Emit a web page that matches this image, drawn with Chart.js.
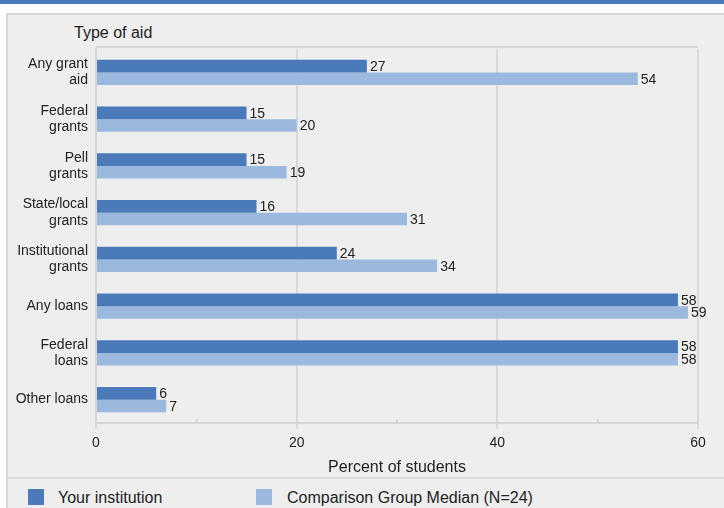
<!DOCTYPE html>
<html>
<head>
<meta charset="utf-8">
<script src="https://cdn.jsdelivr.net/npm/chart.js@4.4.1/dist/chart.umd.min.js"></script>
<style>
  body { margin: 0; width: 724px; height: 508px; overflow: hidden; background: #fff; font-family: "Liberation Sans", Arial, sans-serif; color: #222; }
  .band { position: absolute; left: 0; top: 0; width: 724px; height: 4px; background: #4a7ab9; }
  .panel { position: absolute; left: 6px; top: 13px; width: 730px; height: 510px; background: #eeeeee; border-top: 2px solid #d6d6d6; border-left: 2px solid #d6d6d6; }
  .divider { position: absolute; left: 8px; top: 477px; width: 716px; height: 2px; background: #d9d9d9; }
  .wrap { position: absolute; left: 0; top: 0; width: 724px; height: 478px; }
  .ytitle { position: absolute; left: 74px; top: 24px; font-size: 16px; }
  .legend { position: absolute; top: 489px; left: 0; font-size: 16px; }
  .legend span.box { position: absolute; top: 0; width: 16px; height: 16px; }
  .legend span.txt { position: absolute; top: 0; white-space: nowrap; line-height: 18px; }
</style>
</head>
<body>
<div class="band"></div>
<div class="panel"></div>
<div class="divider"></div>
<div class="ytitle">Type of aid</div>
<div class="wrap"><canvas id="chart"></canvas></div>
<div class="legend">
  <span class="box" style="left:28px;background:#4a7ab9"></span>
  <span class="txt" style="left:58px">Your institution</span>
  <span class="box" style="left:256px;background:#9bb9df"></span>
  <span class="txt" style="left:287px">Comparison Group Median (N=24)</span>
</div>
<script>
const categories = [
  ["Any grant", "aid"],
  ["Federal", "grants"],
  ["Pell", "grants"],
  ["State/local", "grants"],
  ["Institutional", "grants"],
  "Any loans",
  ["Federal", "loans"],
  "Other loans",
];
const yourInstitution = [27, 15, 15, 16, 24, 58, 58, 6];
const comparisonMedian = [54, 20, 19, 31, 34, 59, 58, 7];
const seriesNames = ["Your institution", "Comparison Group Median (N=24)"];

const FONT = "'Liberation Sans', Arial, sans-serif";

// value labels at bar ends, plot top border, minor ticks
const extras = {
  id: "extras",
  afterDatasetsDraw(chart) {
    const ctx = chart.ctx;
    const area = chart.chartArea;
    const x = chart.scales.x;
    ctx.save();
    ctx.strokeStyle = "#d6d6d6";
    ctx.lineWidth = 2;
    ctx.beginPath();
    ctx.moveTo(area.left, area.top - 2);
    ctx.lineTo(area.right, area.top - 2);
    [10, 30, 50].forEach(v => {
      const px = x.getPixelForValue(v);
      ctx.moveTo(px, area.bottom);
      ctx.lineTo(px, area.bottom - 4);
    });
    ctx.stroke();

    ctx.fillStyle = "#222";
    ctx.font = "14px " + FONT;
    ctx.textAlign = "left";
    ctx.textBaseline = "middle";
    chart.data.datasets.forEach((ds, i) => {
      chart.getDatasetMeta(i).data.forEach((bar, j) => {
        ctx.fillText(ds.data[j], bar.x + 3, bar.y + 1);
      });
    });
    ctx.restore();
  }
};

new Chart(document.getElementById("chart"), {
  type: "bar",
  data: {
    labels: categories,
    datasets: [
      { label: seriesNames[0], data: yourInstitution, backgroundColor: "#4a7ab9" },
      { label: seriesNames[1], data: comparisonMedian, backgroundColor: "#9bb9df" },
    ],
  },
  options: {
    indexAxis: "y",
    responsive: true,
    maintainAspectRatio: false,
    animation: false,
    layout: { padding: { top: 49, right: 26, left: 0, bottom: 0 } },
    datasets: { bar: { barPercentage: 1, categoryPercentage: 0.54 } },
    plugins: { legend: { display: false }, tooltip: { enabled: false } },
    scales: {
      x: {
        min: 0,
        max: 60,
        afterFit: s => { s.height = 55; },
        ticks: {
          stepSize: 10,
          color: "#222",
          font: { size: 14, family: FONT },
          padding: 6,
          callback: v => (v % 20 === 0 ? v : ""),
        },
        grid: {
          color: c => (c.tick && c.tick.value % 20 === 0 ? "#d9d9d9" : "rgba(0,0,0,0)"),
          lineWidth: 2,
          tickLength: 6,
        },
        border: { display: true, color: "#d6d6d6", width: 2 },
        title: {
          display: true,
          text: "Percent of students",
          color: "#222",
          font: { size: 16, family: FONT },
          padding: { top: 0, bottom: 1 },
        },
      },
      y: {
        afterFit: s => { s.width = 96; },
        ticks: {
          color: "#222",
          font: { size: 14, family: FONT, lineHeight: 1.15 },
          padding: 8,
        },
        grid: { drawOnChartArea: false, drawTicks: false },
        border: { display: true, color: "#d6d6d6", width: 2 },
      },
    },
  },
  plugins: [extras],
});
</script>
</body>
</html>
